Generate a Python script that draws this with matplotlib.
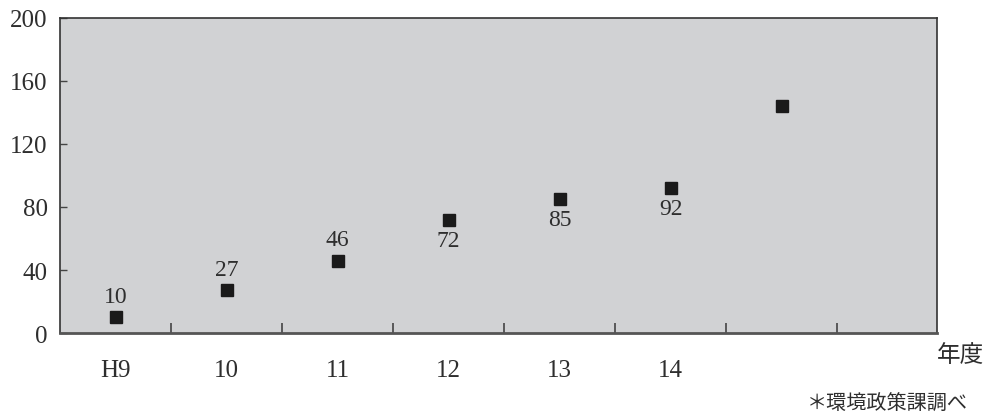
import numpy as np
import matplotlib.pyplot as plt

# data
years = ["H9", "10", "11", "12", "13", "14", ""]
values = [10, 27, 46, 72, 85, 92, 144]
labels = ["10", "27", "46", "72", "85", "92", ""]
label_above = [True, True, True, False, False, False, False]
yticks = [0, 40, 80, 120, 160, 200]

SERIF = ["Liberation Serif", "DejaVu Serif"]
JP = ["Noto Sans CJK JP", "DejaVu Sans"]

fig = plt.figure(figsize=(9.92, 4.14), dpi=100)
ax = fig.add_axes([0.0605, 0.1932, 0.884, 0.761])
ax.set_facecolor("#d1d2d4")

x = np.arange(len(values))
ax.plot(x, values, linestyle="none", marker="s", markersize=8.6, color="#1a1a1a")

for xi, v, lab, above in zip(x, values, labels, label_above):
    if not lab:
        continue
    off = 15 if above else -15
    ax.annotate(lab, (xi, v), xytext=(0, off), textcoords="offset points",
                ha="center", va="center", fontsize=17, family=SERIF, color="#2e2e2e")

ax.set_xlim(-0.5, 7.4)
ax.set_ylim(0, 200)

# boundaries as ticks, category names as minor labels
ax.set_xticks(np.arange(0.5, 7.0, 1.0))
ax.set_xticklabels([])
ax.set_xticks(x, years, minor=True)
ax.tick_params(axis="x", which="major", direction="in", length=7, width=1.2, color="#444444")
ax.tick_params(axis="x", which="minor", length=0, pad=19, labelsize=18, labelcolor="#2e2e2e")

ax.set_yticks(yticks)
ax.tick_params(axis="y", direction="in", length=5, width=1, color="#444444",
               labelsize=18, labelcolor="#2e2e2e", pad=9)
for t in ax.get_xticklabels(minor=True) + ax.get_yticklabels():
    t.set_family(SERIF)

for side, sp in ax.spines.items():
    sp.set_color("#333333")
    sp.set_linewidth(1.2)
ax.spines["bottom"].set_color("#555555")
ax.spines["bottom"].set_linewidth(2)

fig.text(937 / 992, 1 - 356 / 414, "年度", family=JP, fontsize=17,
         ha="left", va="center", color="#2e2e2e")
fig.text(968 / 992, 1 - 404 / 414, "＊環境政策課調べ", family=JP, fontsize=14.5,
         ha="right", va="center", color="#2e2e2e")

fig.savefig("out.png", dpi=100)
